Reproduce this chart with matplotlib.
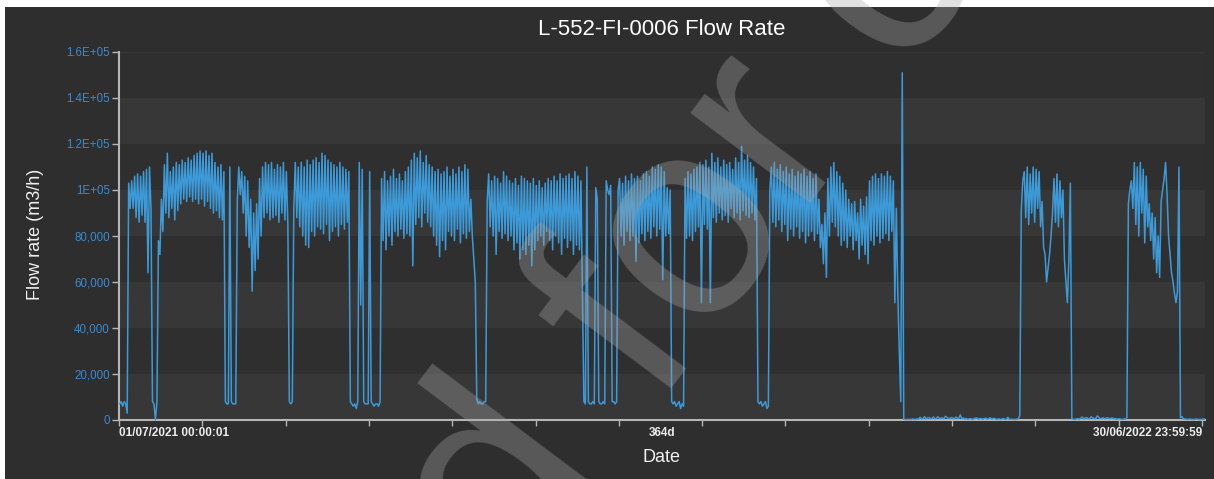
import matplotlib
matplotlib.use("Agg")
import matplotlib.pyplot as plt
from matplotlib.patches import Rectangle
import numpy as np

# Flow rate in 1000 m3/h, one morning and one evening reading per day
# day 0 = 01/07/2021, day 364 = 30/06/2022
flow_am = [
    7, 6, 7, 103, 104, 106, 107, 106, 108, 109,            # 0-9
    110, 8, 0, 78, 96, 111, 116, 108, 110, 112,            # 10-19
    111, 113, 112, 114, 113, 115, 116, 117, 116, 117,      # 20-29
    115, 116, 112, 110, 111, 108, 7, 110, 7, 7,            # 30-39
    110, 108, 106, 104, 96, 90, 94, 105, 110, 112,         # 40-49
    111, 112, 109, 111, 110, 112, 108, 8, 8, 112,          # 50-59
    110, 112, 110, 113, 111, 113, 114, 112, 116, 115,      # 60-69
    113, 112, 111, 110, 112, 110, 109, 108, 7, 7,          # 70-79
    8, 50, 8, 7, 108, 7, 7, 6, 105, 108,                   # 80-89
    104, 106, 109, 105, 107, 104, 108, 110, 113, 116,      # 90-99
    114, 117, 112, 115, 111, 110, 108, 109, 107, 108,      # 100-109
    110, 106, 109, 107, 110, 108, 111, 109, 96, 70,        # 110-119
    9, 8, 7, 8, 107, 104, 106, 105, 103, 108,              # 120-129
    106, 104, 103, 105, 102, 106, 105, 104, 103, 105,      # 130-139
    102, 104, 101, 103, 105, 104, 106, 104, 107, 105,      # 140-149
    106, 107, 105, 108, 106, 104, 8, 110, 7, 8,            # 150-159
    101, 8, 7, 7, 100, 102, 8, 8, 105, 103,                # 160-169
    106, 104, 107, 105, 106, 104, 107, 108, 106, 110,      # 170-179
    109, 111, 110, 108, 101, 100, 7, 6, 8, 7,              # 180-189
    105, 108, 107, 109, 110, 112, 111, 113, 110, 116,      # 190-199
    112, 114, 110, 113, 111, 112, 109, 114, 112, 119,      # 200-209
    113, 115, 112, 110, 105, 7, 6, 8, 6, 110,              # 210-219
    112, 109, 111, 108, 110, 107, 109, 106, 108, 107,      # 220-229
    109, 106, 108, 105, 107, 96, 85, 90, 105, 110,         # 230-239
    112, 108, 106, 103, 100, 96, 94, 95, 90, 96,           # 240-249
    93, 97, 104, 106, 107, 105, 107, 106, 108, 106,        # 250-259
    104, 92, 30, 151, 0.2, 0.3, 0.2, 0.3, 0.5, 1.2,        # 260-269
    0.6, 0.4, 1.1, 0.7, 0.5, 1.4, 0.8, 0.5, 1.2, 0.6,      # 270-279
    0.9, 1.3, 0.7, 0.5, 0.4, 0.3, 0.6, 0.4, 0.9, 0.5,      # 280-289
    0.3, 0.8, 0.5, 0.4, 0.7, 0.3, 0.2, 0.6, 0.3, 0.2,      # 290-299
    0.3, 0.2, 0.4, 91, 108, 110, 107, 110, 109, 108,       # 300-309
    95, 72, 66, 80, 105, 107, 104, 100, 60, 70,            # 310-319
    0.5, 0.2, 0.6, 0.8, 0.4, 1.1, 0.6, 0.9, 0.5, 1.2,      # 320-329
    0.7, 0.5, 1.0, 0.6, 0.4, 0.3, 0.5, 0.2, 0.3, 94,       # 330-339
    104, 112, 110, 112, 109, 106, 94, 90, 88, 80,          # 340-349
    95, 105, 98, 72, 60, 51, 110, 1.5, 0.4, 0.2,           # 350-359
    0.3, 0.2, 0.4, 0.2, 0.3,                               # 360-364
]
flow_pm = [
    8, 8, 3, 92, 92, 88, 86, 89, 86, 64,
    92, 7, 8, 72, 82, 90, 88, 92, 87, 91,
    94, 96, 95, 97, 95, 96, 94, 96, 93, 95,
    92, 90, 91, 88, 87, 8, 7, 8, 7, 95,
    98, 90, 80, 75, 56, 65, 70, 80, 88, 90,
    87, 88, 89, 86, 90, 87, 85, 7, 92, 88,
    84, 80, 76, 75, 82, 80, 84, 83, 81, 85,
    78, 82, 84, 80, 85, 83, 86, 8, 6, 5,
    112, 109, 7, 7, 8, 6, 7, 8, 78, 74,
    80, 76, 82, 80, 83, 79, 81, 80, 67, 85,
    88, 84, 90, 86, 84, 80, 76, 71, 78, 74,
    82, 80, 78, 83, 77, 81, 79, 82, 80, 60,
    7, 7, 8, 95, 84, 80, 72, 82, 79, 81,
    78, 80, 74, 77, 70, 74, 72, 76, 67, 74,
    78, 80, 76, 82, 78, 74, 80, 77, 72, 79,
    75, 78, 72, 76, 74, 56, 7, 8, 7, 7,
    96, 7, 8, 104, 98, 8, 7, 100, 80, 76,
    82, 78, 80, 69, 77, 81, 78, 82, 79, 84,
    80, 83, 61, 80, 81, 8, 8, 7, 5, 6,
    79, 80, 78, 82, 84, 51, 85, 83, 51, 88,
    86, 90, 87, 89, 86, 92, 88, 90, 87, 91,
    89, 88, 90, 87, 8, 8, 7, 5, 100, 86,
    84, 87, 82, 85, 78, 83, 80, 84, 79, 82,
    77, 80, 82, 78, 81, 75, 68, 62, 80, 86,
    84, 80, 76, 78, 75, 80, 74, 78, 70, 76,
    72, 68, 78, 76, 80, 77, 79, 81, 78, 82,
    51, 55, 8, 0.3, 0.1, 0.2, 0.4, 0.2, 0.3, 0.4,
    1.5, 0.9, 0.5, 1.3, 0.8, 0.6, 1.0, 1.6, 0.7, 1.1,
    0.5, 0.8, 2.2, 0.9, 0.6, 0.5, 0.3, 0.8, 0.4, 0.7,
    0.6, 0.4, 1.0, 0.6, 0.3, 0.5, 0.4, 0.2, 1.2, 0.3,
    0.2, 0.4, 2.0, 104, 88, 85, 90, 86, 92, 84,
    75, 60, 72, 90, 86, 84, 88, 70, 51, 103,
    0.3, 0.4, 0.3, 1.3, 0.9, 0.5, 1.4, 0.7, 1.8, 0.6,
    1.0, 0.8, 0.6, 0.9, 0.7, 0.5, 0.3, 0.4, 1.0, 100,
    92, 85, 80, 90, 77, 84, 78, 70, 64, 62,
    100, 112, 80, 64, 55, 56, 1.0, 0.5, 0.3, 0.4,
    0.2, 0.3, 0.2, 0.3, 0.4,
]

y_ticks = [0, 20000, 40000, 60000, 80000, 100000, 120000, 140000, 160000]
y_tick_labels = ["0", "20,000", "40,000", "60,000", "80,000", "1E+05", "1.2E+05", "1.4E+05", "1.6E+05"]
x_tick_days = list(range(0, 365, 28))
start_label = "01/07/2021 00:00:01"
span_label = "364d"
end_label = "30/06/2022 23:59:59"

plt.rcParams["font.family"] = ["Liberation Sans", "DejaVu Sans"]

W, H = 1214, 479
fig = plt.figure(figsize=(W / 100, H / 100), dpi=100, facecolor="white")

# dark panel behind the chart
fig.add_artist(Rectangle((5 / W, 0), 1, (H - 7) / H, transform=fig.transFigure,
                         facecolor="#2e2e2e", edgecolor="none", zorder=-1))

ax = fig.add_axes([119 / W, 1 - 420 / H, 1086 / W, 368 / H])
ax.set_facecolor("#2f2f2f")

# alternating bands
for lo in (0, 40000, 80000, 120000):
    ax.axhspan(lo, lo + 20000, color="#373737", lw=0, zorder=0)
ax.axhline(160000, color="#373737", lw=1, zorder=0)

days = np.arange(len(flow_am))
t = np.column_stack([days + 0.25, days + 0.75]).ravel()
q = np.column_stack([flow_am, flow_pm]).ravel() * 1000
ax.plot(t, q, color="#3d9ad8", lw=1.1, zorder=3, clip_on=False)

ax.set_xlim(0, 365)
ax.set_ylim(0, 160000)

ax.set_yticks(y_ticks, y_tick_labels)
ax.tick_params(axis="y", color="#b5b5b5", labelcolor="#3a8bd0", length=5, width=1,
               labelsize=8.3, pad=1.5)
ax.set_xticks(x_tick_days, [""] * len(x_tick_days))
ax.tick_params(axis="x", color="#b5b5b5", length=4, width=1)

for side in ("top", "right"):
    ax.spines[side].set_visible(False)
for side in ("left", "bottom"):
    ax.spines[side].set_color("#b5b5b5")
    ax.spines[side].set_linewidth(1.5)

# x labels: start, span, end
xt = ax.get_xaxis_transform()
lab = dict(color="#ececec", fontsize=8.5, fontweight="bold", va="top", transform=xt)
ax.text(0, -0.018, start_label, ha="left", **lab)
ax.text(182.5, -0.018, span_label, ha="center", **lab)
ax.text(364, -0.018, end_label, ha="right", **lab)

fig.text(662 / W, 1 - 35 / H, "L-552-FI-0006 Flow Rate", ha="center", va="baseline",
         color="white", fontsize=16)
fig.text(35 / W, 1 - 234 / H, "Flow rate (m3/h)", rotation=90, ha="center", va="center",
         color="#f0f0f0", fontsize=13)
fig.text(662 / W, 1 - 458 / H, "Date", ha="center", va="center", color="#f0f0f0", fontsize=13)

# watermark
fig.text(106 / W, 1 - 1142 / H, "Issued for construction", rotation=53.1, rotation_mode="anchor",
         ha="left", va="baseline", fontsize=205, color="#a8a8a8", alpha=0.35, zorder=10)

fig.savefig("out.png", dpi=100, facecolor="white")
